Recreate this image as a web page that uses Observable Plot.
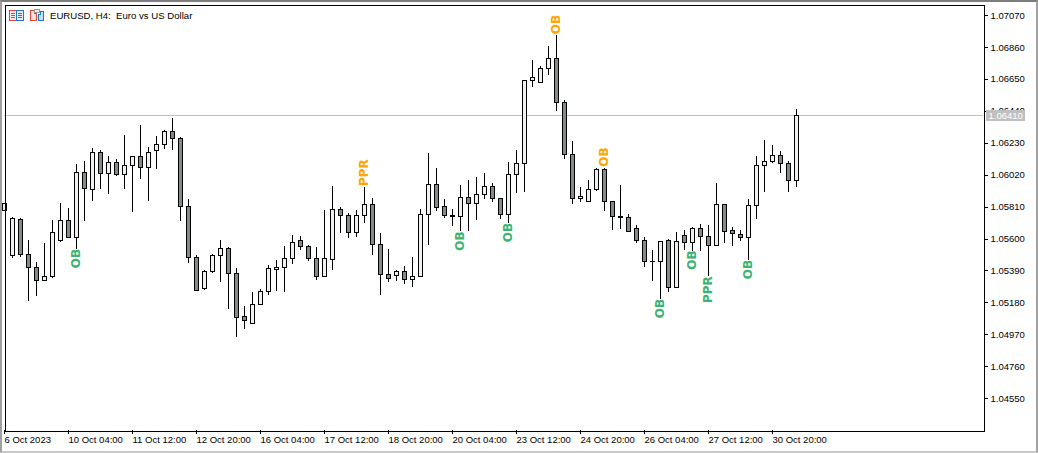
<!DOCTYPE html>
<html><head><meta charset="utf-8">
<script src="https://cdn.jsdelivr.net/npm/d3@7"></script>
<script src="https://cdn.jsdelivr.net/npm/@observablehq/plot@0.6"></script>
<style>
html,body{margin:0;padding:0;background:#fff;overflow:hidden}
#chart{position:relative;width:1038px;height:453px;box-sizing:border-box;background:#fff}
#chart svg.plot{position:absolute;left:0;top:0;background:transparent}
#edge{position:absolute;left:0;top:0;width:1038px;height:453px;box-sizing:border-box;border-left:2px solid #a0a0a0;border-top:2px solid #7d7d7d;border-right:2px solid #a0a0a0;border-bottom:2px solid #c8c8c8;pointer-events:none}
#head{position:absolute;left:50px;top:9px;font:9.6px/13px "Liberation Sans",sans-serif;color:#000;white-space:pre}
#icons{position:absolute;left:9px;top:9px}
</style></head><body>
<div id="chart"><div id="edge"></div><div id="head">EURUSD, H4:  Euro vs US Dollar</div>
<svg id="icons" width="37" height="13" viewBox="0 0 37 13" shape-rendering="crispEdges">
<rect x="0.5" y="1.5" width="7" height="10" fill="#fde8e4" stroke="#e8453c"/><rect x="7.5" y="1.5" width="7" height="10" fill="#e3f0fa" stroke="#1f78c1"/>
<path d="M2 4.5h4M2 6.5h4M2 8.5h4" stroke="#e8453c"/><path d="M9 4.5h4M9 6.5h4M9 8.5h4" stroke="#1f78c1"/>
<path d="M21.5 1.5h4v3h2v7h-6z" fill="#fde0da" stroke="#e8453c"/><path d="M29.5 5.5h2v-3h3v9h-5z" fill="#bfe0f7" stroke="#1f78c1"/><rect x="25.5" y="0.5" width="5" height="3" fill="#eee" stroke="#999"/>
</svg></div>
<script>
const tickLabels = ["6 Oct 2023","10 Oct 04:00","11 Oct 12:00","12 Oct 20:00","16 Oct 04:00","17 Oct 12:00","18 Oct 20:00","20 Oct 04:00","23 Oct 12:00","24 Oct 20:00","26 Oct 04:00","27 Oct 12:00","30 Oct 20:00"];
const priceTicks = [1.0707,1.0686,1.0665,1.0644,1.0623,1.0602,1.0581,1.056,1.0539,1.0518,1.0497,1.0476,1.0455];
const lastPrice = 1.0641;
const open = [1.05787,1.05490,1.05731,1.05499,1.05413,1.05325,1.05352,1.05588,1.05723,1.05608,1.06038,1.05927,1.06170,1.06032,1.06104,1.06023,1.06084,1.06144,1.06069,1.06181,1.06223,1.06308,1.06262,1.05815,1.05479,1.05273,1.05385,1.05490,1.05538,1.05374,1.05091,1.05045,1.05170,1.05256,1.05400,1.05413,1.05473,1.05591,1.05552,1.05473,1.05354,1.05466,1.05795,1.05756,1.05644,1.05756,1.05828,1.05565,1.05367,1.05361,1.05387,1.05335,1.05354,1.05762,1.05960,1.05815,1.05756,1.05749,1.05874,1.05835,1.05894,1.05946,1.05867,1.05762,1.06025,1.06098,1.06644,1.06631,1.06723,1.06788,1.06499,1.06157,1.05867,1.05848,1.05927,1.06058,1.05848,1.05749,1.05742,1.05670,1.05591,1.05455,1.05453,1.05591,1.05282,1.05624,1.05578,1.05670,1.05617,1.05558,1.05828,1.05657,1.05631,1.05611,1.05821,1.06084,1.06111,1.06150,1.06098,1.05986];
const high = [1.05833,1.05741,1.05738,1.05587,1.05446,1.05573,1.05725,1.05836,1.05804,1.06093,1.06113,1.06198,1.06183,1.06146,1.06126,1.06284,1.06144,1.06350,1.06203,1.06277,1.06317,1.06396,1.06269,1.05861,1.05492,1.05394,1.05499,1.05587,1.05545,1.05407,1.05159,1.05249,1.05271,1.05427,1.05460,1.05552,1.05624,1.05617,1.05558,1.05545,1.05788,1.05946,1.05808,1.05769,1.05788,1.05942,1.05867,1.05637,1.05532,1.05394,1.05420,1.05479,1.05795,1.06163,1.06065,1.05861,1.05795,1.05953,1.05986,1.06006,1.06032,1.05966,1.05867,1.06104,1.06183,1.06644,1.06775,1.06736,1.06867,1.06940,1.06512,1.06242,1.05940,1.05986,1.06065,1.06065,1.05848,1.05953,1.05762,1.05690,1.05611,1.05527,1.05585,1.05598,1.05644,1.05657,1.05677,1.05696,1.05690,1.05966,1.05828,1.05677,1.05657,1.05861,1.06144,1.06249,1.06216,1.06177,1.06111,1.06453];
const low = [1.05787,1.05470,1.05477,1.05187,1.05220,1.05319,1.05343,1.05575,1.05602,1.05534,1.05713,1.05845,1.05924,1.05891,1.06009,1.05929,1.05773,1.05990,1.05845,1.06060,1.06192,1.06185,1.05713,1.05437,1.05253,1.05260,1.05374,1.05312,1.05135,1.04950,1.05003,1.05038,1.05170,1.05227,1.05253,1.05246,1.05431,1.05523,1.05450,1.05325,1.05354,1.05391,1.05635,1.05602,1.05608,1.05700,1.05490,1.05227,1.05312,1.05319,1.05299,1.05279,1.05348,1.05556,1.05779,1.05733,1.05681,1.05648,1.05648,1.05720,1.05858,1.05838,1.05727,1.05703,1.05900,1.05904,1.06595,1.06624,1.06677,1.06437,1.06124,1.05825,1.05838,1.05848,1.05913,1.05779,1.05654,1.05661,1.05650,1.05571,1.05413,1.05323,1.05203,1.05246,1.05282,1.05523,1.05519,1.05516,1.05352,1.05549,1.05569,1.05549,1.05582,1.05461,1.05729,1.05907,1.06098,1.06032,1.05907,1.05940];
const close = [1.05833,1.05738,1.05499,1.05411,1.05328,1.05352,1.05644,1.05723,1.05608,1.06038,1.05931,1.06170,1.06032,1.06104,1.06023,1.06084,1.06144,1.06069,1.06170,1.06223,1.06308,1.06262,1.05815,1.05479,1.05260,1.05387,1.05492,1.05538,1.05374,1.05085,1.05065,1.05170,1.05256,1.05407,1.05413,1.05473,1.05578,1.05552,1.05473,1.05354,1.05473,1.05795,1.05756,1.05644,1.05756,1.05828,1.05565,1.05367,1.05341,1.05387,1.05335,1.05354,1.05762,1.05960,1.05808,1.05756,1.05749,1.05874,1.05835,1.05894,1.05946,1.05867,1.05762,1.06025,1.06098,1.06644,1.06663,1.06723,1.06788,1.06499,1.06157,1.05867,1.05881,1.05927,1.06058,1.05848,1.05749,1.05742,1.05650,1.05591,1.05453,1.05450,1.05585,1.05282,1.05585,1.05578,1.05670,1.05617,1.05558,1.05828,1.05650,1.05637,1.05611,1.05821,1.06084,1.06111,1.06150,1.06098,1.05986,1.06413];
const signalText = ["OB","OB","OB","PPR","OB","OB","OB","OB","PPR","OB"];
const signalBar = [9,57,63,45,69,75,82,86,88,93];
const signalPrice = [1.05471,1.05587,1.05642,1.06037,1.07011,1.06139,1.05142,1.05461,1.05267,1.05399];
const signalKind = ["g","g","g","o","o","o","g","g","g","g"];

const bars = open.map((o,i)=>({i,o,h:high[i],l:low[i],c:close[i]}));
const signals = signalText.map((t,k)=>({t,i:signalBar[k],p:signalPrice[k],k:signalKind[k]}));
const every = 8;

const plot = Plot.plot({
  width:1038,height:453,
  marginLeft:4,marginRight:55,marginTop:4,marginBottom:23,
  style:{background:"transparent",overflow:"visible"},
  x:{type:"linear",domain:[0,122.375],axis:null},
  y:{type:"linear",domain:[1.0434,1.07143],axis:null},
  marks:[
    Plot.ruleY([lastPrice],{stroke:"#c0c0c0",strokeWidth:1,shapeRendering:"crispEdges"}),
    Plot.ruleX(bars,{x:"i",y1:"l",y2:"h",stroke:"#000",strokeWidth:1,shapeRendering:"crispEdges"}),
    Plot.rect(bars,{x1:d=>d.i-0.25,x2:d=>d.i+0.25,y1:"o",y2:"c",dx:0.5,dy:0.5,fill:d=>d.c>=d.o?"#f0f0f0":"#7f8c8c",stroke:"#000",strokeWidth:1,shapeRendering:"crispEdges"}),
    Plot.text(signals,{x:"i",y:"p",text:"t",rotate:-90,fontSize:12,fontWeight:"bold",fontFamily:"DejaVu Sans",fill:d=>d.k==="g"?"#3cb371":"#ffa500"}),
    Plot.frame({stroke:"#000",strokeWidth:1,dx:0.5,dy:0.5,shapeRendering:"crispEdges"}),
    Plot.axisY(priceTicks,{anchor:"right",tickSize:4,tickPadding:3,tickFormat:d=>d.toFixed(5),fontSize:9.5,fontFamily:"Liberation Sans",fill:"#000",stroke:"#000",textStroke:"none",letterSpacing:"-0.3px",label:null,shapeRendering:"crispEdges"}),
    Plot.rect([lastPrice],{x1:122.75,x2:127.6,y1:d=>d+0.00038,y2:d=>d-0.00034,fill:"#c0c0c0",shapeRendering:"crispEdges"}),
    Plot.text([lastPrice],{x:123,y:d=>d,text:d=>d.toFixed(5),textAnchor:"start",fill:"#fff",fontSize:9.5,fontFamily:"Liberation Sans",letterSpacing:"-0.3px"}),
    Plot.axisX(d3.range(0,open.length,every),{anchor:"bottom",tickSize:4,tickPadding:2,textAnchor:"start",tickFormat:(d)=>tickLabels[d/every],fontSize:9.5,fontFamily:"Liberation Sans",fill:"#000",label:null,shapeRendering:"crispEdges"})
  ]
});
document.getElementById("chart").insertBefore(plot,document.getElementById("edge"));
</script></body></html>
